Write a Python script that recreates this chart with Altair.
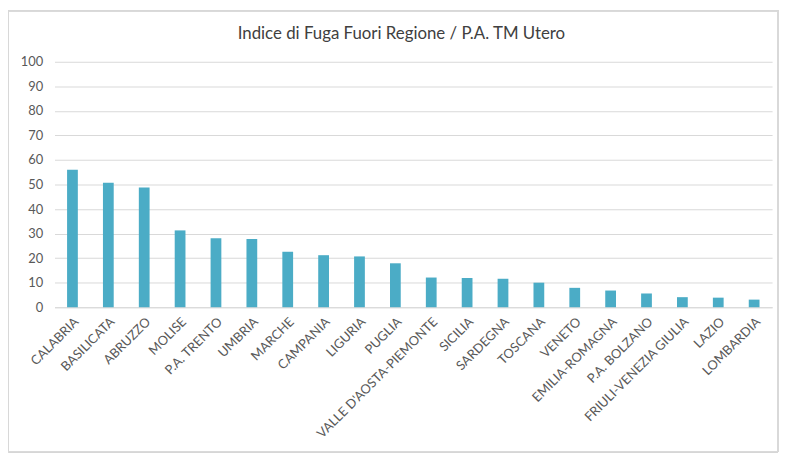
import altair as alt
import pandas as pd

regions = ["CALABRIA", "BASILICATA", "ABRUZZO", "MOLISE", "P.A. TRENTO", "UMBRIA",
           "MARCHE", "CAMPANIA", "LIGURIA", "PUGLIA", "VALLE D'AOSTA-PIEMONTE",
           "SICILIA", "SARDEGNA", "TOSCANA", "VENETO", "EMILIA-ROMAGNA",
           "P.A. BOLZANO", "FRIULI-VENEZIA GIULIA", "LAZIO", "LOMBARDIA"]
values = [56.0, 50.7, 48.8, 31.3, 28.1, 27.8, 22.6, 21.2, 20.7, 17.9, 12.1,
          11.9, 11.6, 10.0, 7.9, 6.8, 5.6, 4.1, 3.9, 3.1]
y_ticks = list(range(0, 101, 10))
title_text = "Indice di Fuga Fuori Regione / P.A. TM Utero"

df = pd.DataFrame({"regione": regions, "valore": values})

FONT = "Lato"
W, H = 725, 248
PL, PT = 47, 52

bars = alt.Chart(df).mark_bar(color="#4BACC6").encode(
    x=alt.X("regione:N", sort=regions, title=None,
            scale=alt.Scale(paddingInner=0.7, paddingOuter=0.35),
            axis=alt.Axis(labelAngle=-45, labelAlign="right", labelBaseline="top",
                          labelFont=FONT, labelFontSize=13, labelColor="#595959",
                          ticks=False, domainColor="#D9D9D9", labelPadding=8,
                          labelOverlap=False, labelLimit=300)),
    y=alt.Y("valore:Q", title=None,
            scale=alt.Scale(domain=[0, 100], nice=False),
            axis=alt.Axis(values=y_ticks, grid=True, gridColor="#D9D9D9", domain=False,
                          ticks=False, labelFont=FONT, labelFontSize=13,
                          labelColor="#595959", labelPadding=12)),
)

frame = alt.Chart(df).mark_rect(fill=None, stroke="#D9D9D9", strokeWidth=1).encode(
    x=alt.value(-PL + 0.5), x2=alt.value(W + 6),
    y=alt.value(-PT + 0.5), y2=alt.value(H + 146),
)

title = alt.Chart(pd.DataFrame({"t": [title_text]})).mark_text(
    font=FONT, fontSize=17, color="#404040", align="center", baseline="middle"
).encode(text="t:N", x=alt.value(W / 2 - 12), y=alt.value(-PT + 24))

chart = alt.layer(bars, frame, title).properties(
    width=W, height=H,
    autosize=alt.AutoSizeParams(type="none"),
    padding={"left": PL, "top": PT, "right": 7, "bottom": 150},
).configure_view(stroke=None)

chart.save("out.html", embed_options={"renderer": "svg", "actions": False})
